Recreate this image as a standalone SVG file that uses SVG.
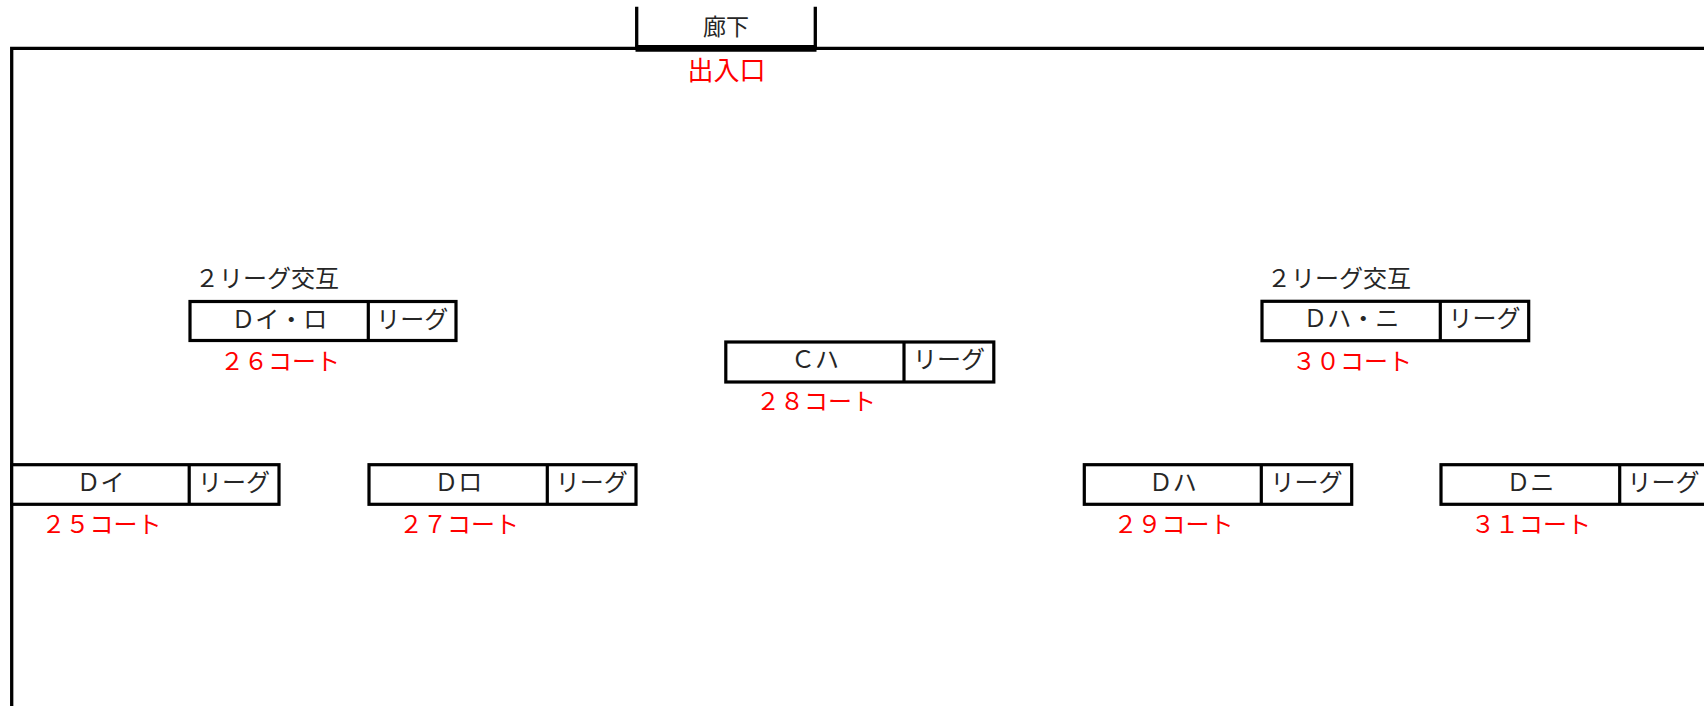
<svg xmlns="http://www.w3.org/2000/svg" width="1704" height="706" viewBox="0 0 1704 706">
<style>
text{font-family:'Noto Sans CJK JP','Noto Sans',sans-serif;}
.lbl{font-size:24px;fill:#262626;text-anchor:middle;}
.cap{font-size:24px;fill:#262626;}
.court{font-size:24px;fill:#ff0000;text-anchor:middle;}
.box{fill:#fff;stroke:#000;stroke-width:3.2;}
.wall{fill:none;stroke:#000;stroke-width:3.3;}
</style>
<rect width="1704" height="706" fill="#fff"/>
<g id="walls">
<path class="wall" d="M11.7,706 V48.3 H1704"/>
<path class="wall" d="M636.7,6.7 V48.3 M815.3,6.7 V48.3"/>
<path fill="none" stroke="#000" stroke-width="6.7" d="M635.5,48.3 H816.5"/>
<text class="lbl" x="726" y="35" style="font-size:23px">廊下</text>
<text class="court" x="726.5" y="80" style="font-size:26px">出入口</text>
</g>
<g id="connectors"></g>
<g id="node-DiRo">
<text class="cap" x="195" y="287.3">２リーグ交互</text>
<rect class="box" x="190" y="301.5" width="266" height="39"/>
<line class="box" x1="368.3" y1="301.5" x2="368.3" y2="340.5"/>
<text class="lbl" x="279.2" y="327.5">Ｄイ・ロ</text>
<text class="lbl" x="412.2" y="327.5">リーグ</text>
<text class="court" x="280" y="370">２６コート</text>
</g>
<g id="node-CHa">
<rect class="box" x="725.8" y="342" width="268" height="40"/>
<line class="box" x1="904" y1="342" x2="904" y2="382"/>
<text class="lbl" x="815" y="368">Ｃハ</text>
<text class="lbl" x="948.9" y="368">リーグ</text>
<text class="court" x="816" y="410">２８コート</text>
</g>
<g id="node-DHaNi">
<text class="cap" x="1267" y="287.3">２リーグ交互</text>
<rect class="box" x="1262" y="301.3" width="266.7" height="39.4"/>
<line class="box" x1="1440.3" y1="301.3" x2="1440.3" y2="340.7"/>
<text class="lbl" x="1351.2" y="327.2">Ｄハ・ニ</text>
<text class="lbl" x="1484.5" y="327.2">リーグ</text>
<text class="court" x="1352" y="370">３０コート</text>
</g>
<g id="node-Di">
<rect class="box" x="11.7" y="464.7" width="267.3" height="39.6"/>
<line class="box" x1="189.2" y1="464.7" x2="189.2" y2="504.3"/>
<text class="lbl" x="100.5" y="491">Ｄイ</text>
<text class="lbl" x="234.1" y="491">リーグ</text>
<text class="court" x="101.5" y="533">２５コート</text>
</g>
<g id="node-DRo">
<rect class="box" x="369" y="464.7" width="267" height="39.6"/>
<line class="box" x1="547.3" y1="464.7" x2="547.3" y2="504.3"/>
<text class="lbl" x="458.2" y="491">Ｄロ</text>
<text class="lbl" x="591.7" y="491">リーグ</text>
<text class="court" x="459" y="533">２７コート</text>
</g>
<g id="node-DHa">
<rect class="box" x="1084.3" y="464.7" width="267.4" height="39.6"/>
<line class="box" x1="1261.3" y1="464.7" x2="1261.3" y2="504.3"/>
<text class="lbl" x="1172.8" y="491">Ｄハ</text>
<text class="lbl" x="1306.5" y="491">リーグ</text>
<text class="court" x="1173.5" y="533">２９コート</text>
</g>
<g id="node-DNi">
<rect class="box" x="1441" y="464.7" width="267" height="39.6"/>
<line class="box" x1="1619.7" y1="464.7" x2="1619.7" y2="504.3"/>
<text class="lbl" x="1530.3" y="491">Ｄニ</text>
<text class="lbl" x="1663.5" y="491">リーグ</text>
<text class="court" x="1531" y="533">３１コート</text>
</g>
</svg>
